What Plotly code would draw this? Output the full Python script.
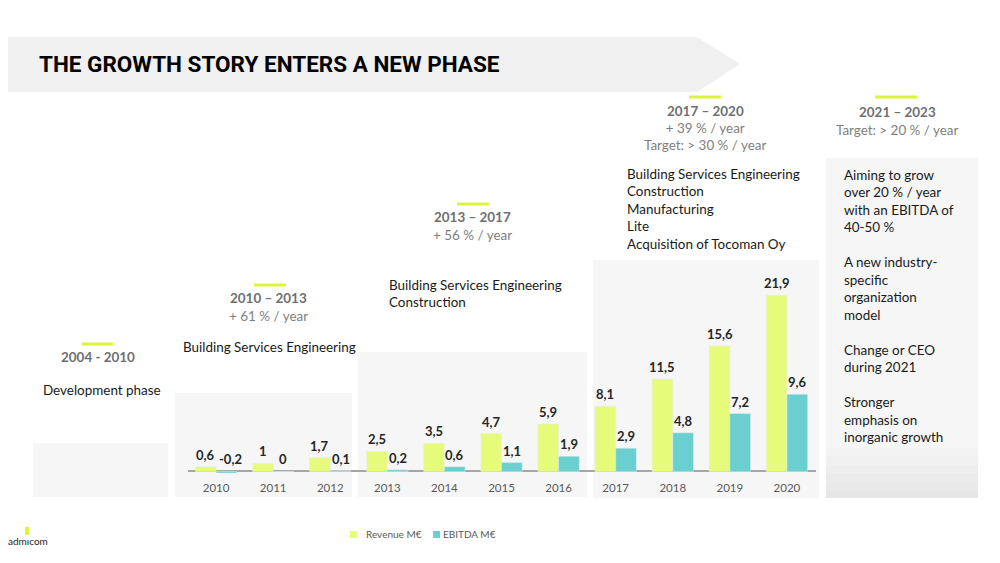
import plotly.graph_objects as go

# ---------------- data ----------------
years = ["2010", "2011", "2012", "2013", "2014", "2015", "2016", "2017", "2018", "2019", "2020"]
revenue = [0.6, 1, 1.7, 2.5, 3.5, 4.7, 5.9, 8.1, 11.5, 15.6, 21.9]
ebitda = [-0.2, 0, 0.1, 0.2, 0.6, 1.1, 1.9, 2.9, 4.8, 7.2, 9.6]
series_names = ["Revenue M€", "EBITDA M€"]

title_text = "THE GROWTH STORY ENTERS A NEW PHASE"

phase_headers = ["2004 - 2010", "2010 – 2013", "2013 – 2017", "2017 – 2020", "2021 – 2023"]
phase_growth = [None, "+ 61 % / year", "+ 56 % / year", "+ 39 % / year<br>Target: > 30 % / year",
                "Target: > 20 % / year"]
phase_desc = [
    "Development phase",
    "Building Services Engineering",
    "Building Services Engineering<br>Construction",
    "Building Services Engineering<br>Construction<br>Manufacturing<br>Lite<br>Acquisition of Tocoman Oy",
    "Aiming to grow<br>over 20 % / year<br>with an EBITDA of<br>40-50 %<br><br>A new industry-<br>specific<br>"
    "organization<br>model<br><br>Change or CEO<br>during 2021<br><br>Stronger<br>emphasis on<br>inorganic growth",
]

# ---------------- style ----------------
PAGE_W, PAGE_H = 1000, 563
BODY_M = 8  # default page margin around the figure
W, H = PAGE_W - 2 * BODY_M, PAGE_H - 2 * BODY_M
REV_C = "#e6fb7a"
EBI_C = "#6ccfcf"
LIME = "#dcf53c"
PANEL = "#f6f6f6"
FONT = "Lato"


def px(x):
    """page pixel x -> paper fraction"""
    return (x - BODY_M) / W


def py(y):
    """page pixel y -> paper fraction"""
    return 1 - (y - BODY_M) / H


fig = go.Figure()
fig.add_trace(go.Bar(x=years, y=revenue, name=series_names[0], marker_color=REV_C))
fig.add_trace(go.Bar(x=years, y=ebitda, name=series_names[1], marker_color=EBI_C))

shapes = []
# title banner arrow
shapes.append(dict(type="path", xref="paper", yref="paper", layer="below",
                   path=f"M {px(-10)},{py(37)} L {px(697)},{py(37)} L {px(740)},{py(64)} "
                        f"L {px(697)},{py(92)} L {px(-10)},{py(92)} Z",
                   fillcolor="#f0f0f0", line=dict(width=0)))
# background panels (x0, y0, x1, y1 in pixels)
panels = [(33, 443, 168, 497), (175, 393, 352, 497), (358, 352, 587, 497),
          (593, 260, 819, 498), (826, 158, 978, 498)]
for (x0, y0, x1, y1) in panels:
    shapes.append(dict(type="rect", xref="paper", yref="paper", layer="below",
                       x0=px(x0), x1=px(x1), y0=py(y1), y1=py(y0),
                       fillcolor=PANEL, line=dict(width=0)))
# gradient at bottom of last panel
grad = ["#f3f3f3", "#f0f0f0", "#eeeeee", "#ebebeb", "#e9e9e9", "#e6e6e6"]
gy = 448
step = (498 - gy) / len(grad)
for i, c in enumerate(grad):
    shapes.append(dict(type="rect", xref="paper", yref="paper", layer="below",
                       x0=px(826), x1=px(978), y0=py(gy + (i + 1) * step), y1=py(gy + i * step),
                       fillcolor=c, line=dict(width=0)))
# lime accent lines
accents = [(82, 113, 344), (254, 286, 285), (457, 489, 204), (689, 721, 97), (875, 917, 97)]
for (x0, x1, y) in accents:
    shapes.append(dict(type="line", xref="paper", yref="paper",
                       x0=px(x0), x1=px(x1), y0=py(y), y1=py(y),
                       line=dict(color=LIME, width=3)))
# legend swatches
shapes.append(dict(type="rect", xref="paper", yref="paper", x0=px(350), x1=px(357),
                   y0=py(538), y1=py(531), fillcolor=REV_C, line=dict(width=0)))
shapes.append(dict(type="rect", xref="paper", yref="paper", x0=px(433), x1=px(440),
                   y0=py(538), y1=py(531), fillcolor=EBI_C, line=dict(width=0)))
# logo pill
shapes.append(dict(type="rect", xref="paper", yref="paper", x0=px(25), x1=px(29),
                   y0=py(535), y1=py(527), fillcolor=LIME, line=dict(width=0)))

ann = []


def text(x, y, t, size=13.45, color="#1a1a1a", bold=False, anchor="left", family=FONT):
    ann.append(dict(xref="paper", yref="paper", x=px(x), y=py(y), text=t, showarrow=False,
                    xanchor=anchor, yanchor="middle", align=anchor if anchor != "center" else "center",
                    font=dict(size=size, color=color, family=family,
                              weight="bold" if bold else "normal")))


def block(x, ytop, t, size=13.45, color="#1a1a1a", anchor="left"):
    ann.append(dict(xref="paper", yref="paper", x=px(x), y=py(ytop - 10), text=t, showarrow=False,
                    xanchor=anchor, yanchor="top", align=anchor,
                    font=dict(size=size, color=color, family=FONT)))


# title
text(37, 64, title_text, size=22.5, color="#000000", bold=True, family="Roboto")

HDR = "#6f6f6f"
SUB = "#7f7f7f"
# phase 1
text(97.5, 357, phase_headers[0], color=HDR, bold=True, anchor="center")
text(41, 390, phase_desc[0])
# phase 2
text(268, 298, phase_headers[1], color=HDR, bold=True, anchor="center")
text(268, 316, phase_growth[1], color=SUB, anchor="center")
text(181, 347, phase_desc[1])
# phase 3
text(472, 217, phase_headers[2], color=HDR, bold=True, anchor="center")
text(472, 235, phase_growth[2], color=SUB, anchor="center")
block(387, 285, phase_desc[2])
# phase 4
text(705.5, 110.5, phase_headers[3], color=HDR, bold=True, anchor="center")
block(705.5, 128, phase_growth[3], color=SUB, anchor="center")
block(625, 173.5, phase_desc[3])
# phase 5
text(897, 112, phase_headers[4], color=HDR, bold=True, anchor="center")
text(897, 130, phase_growth[4], color=SUB, anchor="center")
block(841.5, 175, phase_desc[4])

# legend texts
text(364, 534, series_names[0], size=10, color="#595959")
text(441, 534, series_names[1], size=10, color="#595959")
# logo
text(6, 541, "admıcom", size=10, color="#222222")

# data labels (x as category index)
OFF = 10.35
for vals, sh in ((revenue, -OFF), (ebitda, OFF)):
    for i, v in enumerate(vals):
        ann.append(dict(xref="x", yref="y", x=i, y=max(v, 0), xshift=sh + (4 if v < 0 else 0),
                        yshift=2, text=f"{v:g}".replace(".", ","), showarrow=False,
                        xanchor="center", yanchor="bottom",
                        font=dict(size=13, color="#262626", family=FONT, weight="bold")))

fig.update_layout(
    width=W, height=H, margin=dict(l=0, r=0, t=0, b=0, autoexpand=False),
    paper_bgcolor="white", plot_bgcolor="rgba(0,0,0,0)",
    barmode="group", bargap=0.275, bargroupgap=0,
    showlegend=False,
    shapes=shapes, annotations=ann,
    font=dict(family=FONT),
    xaxis=dict(domain=[px(187.5), px(815.5)], type="category", range=[-0.5, 10.5],
               autorange=False, automargin=False, showgrid=False, showline=False,
               ticks="", ticklabelstandoff=4,
               tickfont=dict(size=11.5, color="#595959", family=FONT),
               fixedrange=True),
    yaxis=dict(domain=[py(475.5), py(278.3)], range=[-0.5, 24], autorange=False, automargin=False,
               showgrid=False, showticklabels=False, zeroline=True, zerolinecolor="#a6a6a6",
               zerolinewidth=1.5, fixedrange=True),
)

fig.write_html("out.html")
